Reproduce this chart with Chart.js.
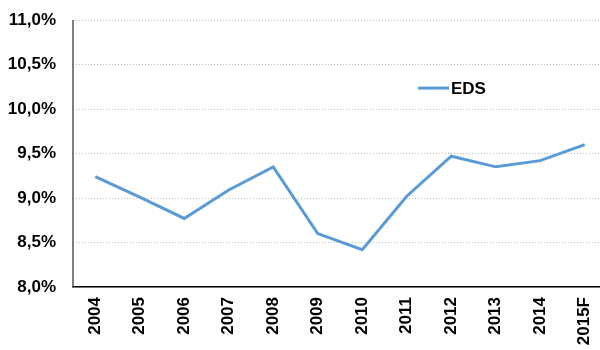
<!DOCTYPE html>
<html>
<head>
<meta charset="utf-8">
<script src="https://cdn.jsdelivr.net/npm/chart.js@4"></script>
<style>
  html, body { margin: 0; padding: 0; background: #fff; overflow: hidden; }
  #wrap { width: 607px; height: 350px; }
</style>
</head>
<body>
<div id="wrap"><canvas id="edsChart"></canvas></div>
<script>
const years = ["2004", "2005", "2006", "2007", "2008", "2009", "2010", "2011", "2012", "2013", "2014", "2015F"];
const edsValues = [9.24, 9.01, 8.77, 9.09, 9.35, 8.60, 8.42, 9.02, 9.47, 9.35, 9.42, 9.60];
const yTicks = [8.0, 8.5, 9.0, 9.5, 10.0, 10.5, 11.0];

const fontFamily = '"Liberation Sans", Arial, sans-serif';

// legend drawn inside the plot like the original
const innerLegend = {
    id: 'innerLegend',
    afterDraw(chart) {
        const ctx = chart.ctx;
        const area = chart.chartArea;
        const ds = chart.data.datasets[0];
        const x = 418;
        const y = area.top + (area.bottom - area.top) * 0.255;
        ctx.save();
        ctx.strokeStyle = ds.borderColor;
        ctx.lineWidth = 3;
        ctx.beginPath();
        ctx.moveTo(x, y);
        ctx.lineTo(x + 31, y);
        ctx.stroke();
        ctx.fillStyle = '#000';
        ctx.font = 'bold 17px ' + fontFamily;
        ctx.textBaseline = 'middle';
        ctx.fillText(ds.label, x + 33, y + 1);
        ctx.restore();
    }
};

// solid y axis line (the grid dash would otherwise apply)
const solidAxis = {
    id: 'solidAxis',
    afterDraw(chart) {
        const ctx = chart.ctx;
        const area = chart.chartArea;
        ctx.save();
        ctx.strokeStyle = '#555';
        ctx.lineWidth = 1.5;
        ctx.beginPath();
        ctx.moveTo(area.left, area.top);
        ctx.lineTo(area.left, area.bottom);
        ctx.stroke();
        ctx.restore();
    }
};

const edsChart = new Chart('edsChart', {
    type: 'line',
    data: {
        labels: years,
        datasets: [{
            label: 'EDS',
            data: edsValues,
            borderColor: '#5b9bd5',
            borderWidth: 3,
            pointRadius: 0,
            tension: 0,
            fill: false
        }]
    },
    options: {
        responsive: true,
        maintainAspectRatio: false,
        animation: false,
        layout: {
            padding: 0
        },
        plugins: {
            legend: { display: false },
            tooltip: { enabled: false }
        },
        scales: {
            x: {
                offset: true,
                grid: { display: false, drawTicks: false },
                border: { display: true, color: '#000', width: 1.5 },
                ticks: {
                    color: '#000',
                    font: { family: fontFamily, size: 17, weight: 'bold' },
                    minRotation: 90,
                    maxRotation: 90,
                    padding: 10
                },
                afterFit(scale) {
                    scale.height = 63;
                    scale.paddingLeft = 0;
                    scale.paddingRight = 0;
                }
            },
            y: {
                min: 8,
                max: 11,
                afterBuildTicks(scale) {
                    scale.ticks = yTicks.map(v => ({ value: v }));
                },
                grid: {
                    color: '#bdbdbd',
                    lineWidth: 1,
                    drawTicks: false
                },
                border: { display: false, dash: [1, 2] },
                ticks: {
                    color: '#000',
                    font: { family: fontFamily, size: 17, weight: 'bold' },
                    padding: 17,
                    callback: v => v.toFixed(1).replace('.', ',') + '%'
                },
                afterFit(scale) {
                    scale.width = 73;
                    scale.paddingTop = 20;
                    scale.paddingBottom = 0;
                }
            }
        }
    },
    plugins: [innerLegend, solidAxis]
});
</script>
</body>
</html>
